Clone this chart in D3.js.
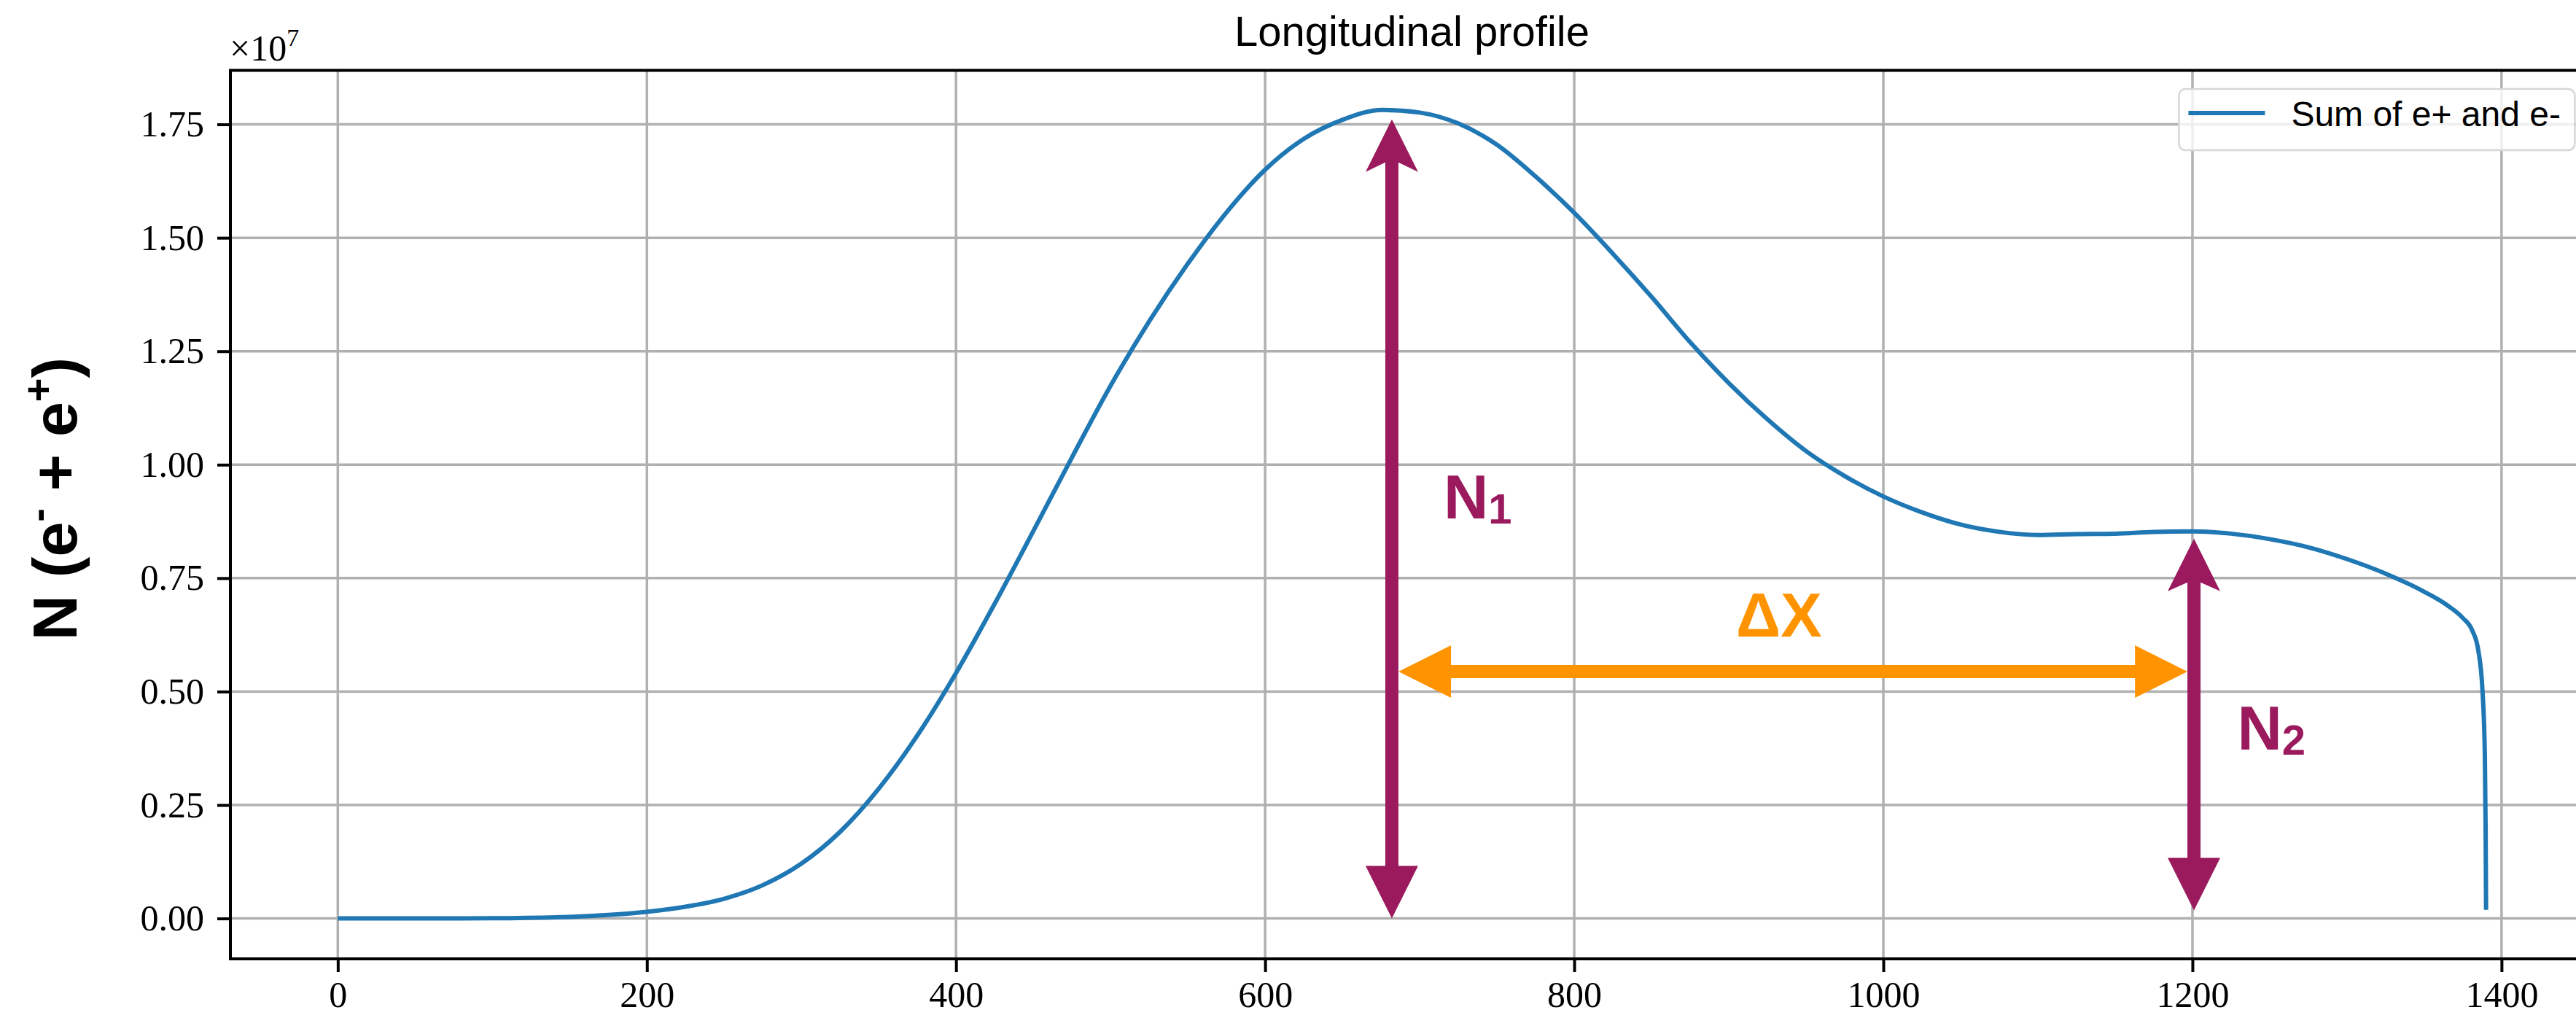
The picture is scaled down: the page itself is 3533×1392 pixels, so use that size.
<!DOCTYPE html>
<html>
<head>
<meta charset="utf-8">
<script src="https://cdn.jsdelivr.net/npm/d3@7"></script>
<style>
  html, body { margin: 0; padding: 0; background: #fff; overflow: hidden; }
  svg { display: block; }
</style>
</head>
<body>
<svg id="chart"></svg>
<script>
// Longitudinal shower profile: depth (x) and number of e+ / e- (in units of 1e7)
const depth = [0, 50, 100, 150, 175, 200, 225, 250, 275, 300, 325, 350, 375, 400, 425, 450, 475, 500, 525, 550, 575, 600, 625, 650, 676, 700, 725, 750, 775, 800, 825, 850, 875, 900, 925, 950, 975, 1000, 1025, 1050, 1075, 1100, 1125, 1150, 1175, 1200, 1225, 1250, 1275, 1300, 1325, 1350, 1365, 1375, 1381, 1385, 1387.7, 1389.2, 1389.7, 1390];
const particles = [0, 0, 0.0005, 0.0035, 0.0078, 0.0148, 0.026, 0.0435, 0.0735, 0.121, 0.191, 0.286, 0.4035, 0.541, 0.6935, 0.8535, 1.016, 1.174, 1.316, 1.443, 1.556, 1.65, 1.718, 1.76, 1.782, 1.776, 1.752, 1.705, 1.635, 1.555, 1.465, 1.37, 1.27, 1.18, 1.10, 1.03, 0.975, 0.93, 0.895, 0.868, 0.852, 0.845, 0.847, 0.848, 0.852, 0.853, 0.848, 0.836, 0.818, 0.792, 0.76, 0.72, 0.69, 0.662, 0.635, 0.59, 0.5, 0.36, 0.2, 0.019];

const xTicks = [0, 200, 400, 600, 800, 1000, 1200, 1400];
const yTicks = [0, 0.25, 0.5, 0.75, 1.0, 1.25, 1.5, 1.75];
const yTickLabels = ["0.00", "0.25", "0.50", "0.75", "1.00", "1.25", "1.50", "1.75"];

const seriesName = "Sum of e+ and e-";
const titleText = "Longitudinal profile";

// Annotation anchors in data units
const n1Arrow = { x: 682, from: 0, to: 1.761 };
const n2Arrow = { x: 1201, from: 0.018, to: 0.837 };
const dxArrow = { y: 0.544, from: 686.3, to: 1196.8 };
const n1Label = { x: 715.5, y: 0.882 };
const n2Label = { x: 1229, y: 0.372 };
const dxLabel = { x: 932.5, y: 0.622 };

const W = 3533, H = 1392;
const svg = d3.select("#chart").attr("width", W).attr("height", H);

const x = d3.scaleLinear().domain([-69.5, 1459.5]).range([316, 3557]);
const y = d3.scaleLinear().domain([-0.089, 1.869]).range([1315, 96.5]);
const [x0, x1] = x.range();
const [yb, yt] = y.range();

const purple = "#9b1a5d";
const orange = "#ff9400";
const blue = "#1f77b4";

// grid
const grid = svg.append("g");
grid.selectAll("line.vx").data(xTicks).join("line")
  .attr("x1", d => x(d)).attr("x2", d => x(d))
  .attr("y1", yt).attr("y2", yb)
  .attr("stroke", "#b0b0b0").attr("stroke-width", 3.5);
grid.selectAll("line.hy").data(yTicks).join("line")
  .attr("x1", x0).attr("x2", x1)
  .attr("y1", d => y(d)).attr("y2", d => y(d))
  .attr("stroke", "#b0b0b0").attr("stroke-width", 3.5);

// clip for the series
svg.append("clipPath").attr("id", "plotclip")
  .append("rect").attr("x", x0).attr("y", yt).attr("width", x1 - x0).attr("height", yb - yt);

const pts = depth.map((d, i) => [d, particles[i]]);
const line = d3.line().x(d => x(d[0])).y(d => y(d[1])).curve(d3.curveMonotoneX);
svg.append("path").datum(pts)
  .attr("clip-path", "url(#plotclip)")
  .attr("d", line)
  .attr("fill", "none").attr("stroke", blue).attr("stroke-width", 6)
  .attr("stroke-linejoin", "round").attr("stroke-linecap", "butt");

// axes
const tickFont = "'Liberation Serif', 'DejaVu Serif', serif";
const yAxis = svg.append("g").attr("transform", `translate(${x0},0)`)
  .call(d3.axisLeft(y).tickValues(yTicks).tickFormat((d, i) => yTickLabels[i])
    .tickSize(18).tickPadding(18));
const xAxis = svg.append("g").attr("transform", `translate(0,${yb})`)
  .call(d3.axisBottom(x).tickValues(xTicks).tickFormat(d3.format("d"))
    .tickSize(18).tickPadding(12));
[yAxis, xAxis].forEach(g => {
  g.select(".domain").remove();
  g.selectAll(".tick line").attr("stroke", "#000").attr("stroke-width", 4);
  g.selectAll(".tick text").attr("fill", "#000")
    .style("font-family", tickFont).style("font-size", "50px");
});

// frame
svg.append("rect").attr("x", x0).attr("y", yt).attr("width", x1 - x0).attr("height", yb - yt)
  .attr("fill", "none").attr("stroke", "#000").attr("stroke-width", 4);

// offset text ×10^7
const off = svg.append("text").attr("x", 315).attr("y", 83)
  .style("font-family", tickFont).style("font-size", "50px").attr("fill", "#000");
off.append("tspan").text("×10");
off.append("tspan").attr("dy", -20).style("font-size", "34px").text("7");

// title
svg.append("text").attr("x", (x0 + x1) / 2).attr("y", 63).attr("text-anchor", "middle")
  .style("font-family", "'Liberation Sans', Arial, sans-serif").style("font-size", "58px")
  .attr("fill", "#000").text(titleText);

// y label
const yl = svg.append("text").attr("transform", "translate(105,684) rotate(-90)")
  .attr("text-anchor", "middle")
  .style("font-family", "'Liberation Sans', Arial, sans-serif").style("font-size", "86px")
  .style("font-weight", "bold").attr("fill", "#000");
yl.append("tspan").text("N (e");
yl.append("tspan").attr("dy", -34).style("font-size", "56px").text("-");
yl.append("tspan").attr("dy", 34).text(" + e");
yl.append("tspan").attr("dy", -34).style("font-size", "56px").text("+");
yl.append("tspan").attr("dy", 34).text(")");

// legend
const lgRight = x1 - 25.6, lgTop = yt + 25.6;
const lg = svg.append("g");
lg.append("rect").attr("x", lgRight - 543).attr("y", lgTop).attr("width", 543).attr("height", 84)
  .attr("rx", 9).attr("fill", "#fff").attr("fill-opacity", 0.8)
  .attr("stroke", "#d6d6d6").attr("stroke-width", 2.5);
lg.append("line").attr("x1", lgRight - 530).attr("x2", lgRight - 425)
  .attr("y1", lgTop + 33).attr("y2", lgTop + 33)
  .attr("stroke", blue).attr("stroke-width", 6);
lg.append("text").attr("x", lgRight - 389).attr("y", lgTop + 51)
  .style("font-family", "'Liberation Sans', Arial, sans-serif").style("font-size", "48px")
  .attr("fill", "#000").text(seriesName);

// double-headed arrow polygon in pixel space
function arrowPath(sx, sy, ex, ey, opts) {
  const w = opts.shaft / 2, L = opts.head, hw = opts.headWidth / 2;
  const sS = opts.sweepStart || 0, sE = opts.sweepEnd || 0;
  const len = Math.hypot(ex - sx, ey - sy);
  const ux = (ex - sx) / len, uy = (ey - sy) / len;
  const nx = -uy, ny = ux;
  const P = (bx, by, a, b) => [bx + ux * a + nx * b, by + uy * a + ny * b];
  const p = [
    [sx, sy],
    P(sx, sy, L, hw),
    P(sx, sy, L - sS, w),
    P(ex, ey, -(L - sE), w),
    P(ex, ey, -L, hw),
    [ex, ey],
    P(ex, ey, -L, -hw),
    P(ex, ey, -(L - sE), -w),
    P(sx, sy, L - sS, -w),
    P(sx, sy, L, -hw)
  ];
  return "M" + p.map(q => q.join(",")).join("L") + "Z";
}
const arrowOpts = { shaft: 18, head: 72, headWidth: 72 };
const ann = svg.append("g");
ann.append("path")
  .attr("d", arrowPath(x(n1Arrow.x), y(n1Arrow.from), x(n1Arrow.x), y(n1Arrow.to), { ...arrowOpts, sweepEnd: 13 }))
  .attr("fill", purple);
ann.append("path")
  .attr("d", arrowPath(x(n2Arrow.x), y(n2Arrow.from), x(n2Arrow.x), y(n2Arrow.to), { ...arrowOpts, sweepEnd: 12 }))
  .attr("fill", purple);
ann.append("path")
  .attr("d", arrowPath(x(dxArrow.from), y(dxArrow.y), x(dxArrow.to), y(dxArrow.y), arrowOpts))
  .attr("fill", orange);

const annFont = "'Liberation Sans', Arial, sans-serif";
function subLabel(pos, main, sub, color) {
  const t = ann.append("text").attr("x", x(pos.x)).attr("y", y(pos.y))
    .style("font-family", annFont).style("font-weight", "bold").style("font-size", "85px")
    .attr("fill", color);
  t.append("tspan").text(main);
  if (sub) t.append("tspan").attr("dy", 7).style("font-size", "58px").text(sub);
}
subLabel(n1Label, "N", "1", purple);
subLabel(n2Label, "N", "2", purple);
ann.append("text").attr("x", x(dxLabel.x)).attr("y", y(dxLabel.y)).attr("text-anchor", "middle")
  .style("font-family", annFont).style("font-weight", "bold").style("font-size", "85px")
  .attr("fill", orange).text("ΔX");
</script>
</body>
</html>
